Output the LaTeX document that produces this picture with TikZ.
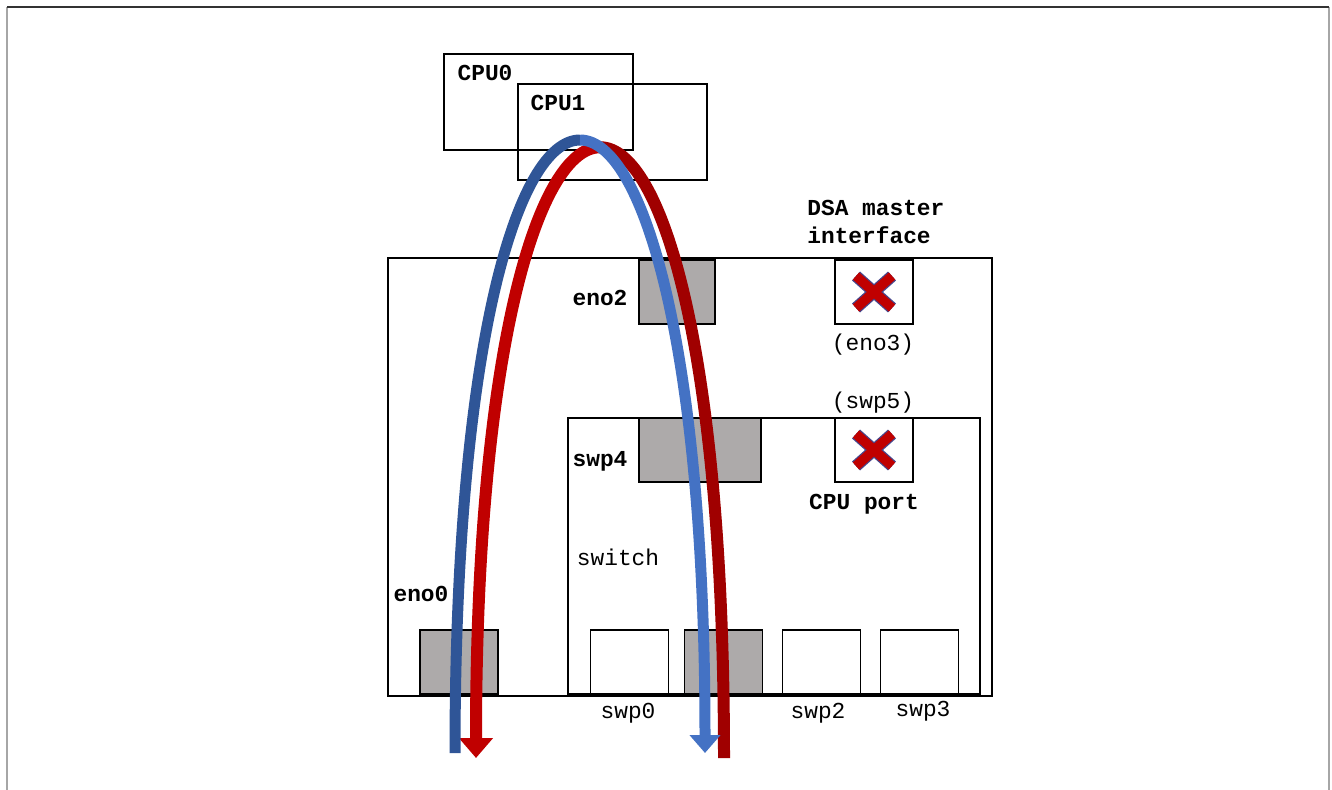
\documentclass[tikz,border=0pt]{standalone}
\usepackage{fontspec}
\newfontfamily\cour{Liberation Mono}
\usetikzlibrary{arrows.meta}
\definecolor{blueL}{RGB}{47,85,151}
\definecolor{blueR}{RGB}{68,114,196}
\definecolor{redL}{RGB}{192,0,0}
\definecolor{redR}{RGB}{160,0,0}
\definecolor{portgray}{RGB}{173,170,170}
\definecolor{xnavy}{RGB}{70,70,140}
\begin{document}
\begin{tikzpicture}[x=0.02cm,y=-0.02cm,
  box/.style={draw=black,line width=0.85pt,inner sep=0pt,outer sep=0pt},
  gport/.style={box,fill=portgray,minimum width=1.56cm,minimum height=1.28cm},
  wport/.style={box,fill=white,minimum width=1.56cm,minimum height=1.28cm},
  bl/.style={font=\cour\bfseries\fontsize{13}{16}\selectfont,inner sep=0pt},
  pl/.style={font=\cour\fontsize{13}{16}\selectfont,inner sep=0pt},
  bluearc/.style={line width=0.22cm},
  redarc/.style={line width=0.24cm},
  xmark/.pic={
    \draw[xnavy,line width=0.24cm] (-18,-16) -- (18,16) (-18,16) -- (18,-16);
    \draw[redL,line width=0.19cm] (-18,-16) -- (18,16) (-18,16) -- (18,-16);
  }]
\useasboundingbox (0,0) rectangle (1332,790);
% outer frame
\coordinate (f1) at (7,790);
\coordinate (f2) at (7,7);
\coordinate (f3) at (1329,7);
\coordinate (f4) at (1329,790);
\draw[color=black!35,line width=1.1pt] (f1) -- (f2);
\draw[color=black!35,line width=1.1pt] (f3) -- (f4);
\draw[color=black!80,line width=0.9pt] (f2) -- (f3);

% CPUs
\node[box,minimum width=3.78cm,minimum height=1.92cm] (cpu0) at (538.5,102) {};
\node[box,minimum width=3.78cm,minimum height=1.92cm] (cpu1) at (612.5,132) {};
\node[bl] (cpu0l) at (485,73) {CPU0};
\node[bl] (cpu1l) at (558,103) {CPU1};

% host box
\node[box,minimum width=12.08cm,minimum height=8.76cm] (host) at (690,477) {};
\node[gport,minimum width=1.52cm] (eno2) at (677,292) {};
\node[bl] (eno2l) at (600,298) {eno2};
\node[wport] (eno3) at (874,292) {};
\pic at (eno3) {xmark};
\node[pl] (eno3l) at (873,345) {(eno3)};
\node[bl,align=left,anchor=west] (dsal) at (807,222) {DSA master\\interface};

% switch
\node[box,minimum width=8.24cm,minimum height=5.52cm] (sw) at (774,556) {};
\node[gport,minimum width=2.44cm] (swp4) at (700,450) {};
\node[bl] (swp4l) at (600,461) {swp4};
\node[wport] (swp5) at (874,450) {};
\pic at (swp5) {xmark};
\node[pl] (swp5l) at (873,403) {(swp5)};
\node[bl] (cpuport) at (864,504) {CPU port};
\node[pl] (swl) at (618,557) {switch};

\node[wport] (swp0) at (629.5,662) {};
\node[gport] (swp1) at (723.5,662) {};
\node[wport] (swp2) at (821.5,662) {};
\node[wport] (swp3) at (919.5,662) {};
\node[pl] (swp0l) at (628,713) {swp0};
\node[pl] (swp2l) at (818,713) {swp2};
\node[pl] (swp3l) at (923,711) {swp3};

\node[gport] (eno0) at (459,662) {};
\node[bl] (eno0l) at (421,594) {eno0};

% red arc
\coordinate (r0) at (476,758);
\coordinate (rt) at (600,147.25);
\coordinate (r1) at (724,758);
\draw[redarc,redL,{Triangle[width=0.66cm,length=0.4cm]}-] (r0) .. controls (476,350.5) and (538,147.25) .. (rt);
\draw[redarc,redR] (rt) .. controls (662,147.25) and (724,350.5) .. (r1);

% blue arc
\coordinate (b0) at (455,753);
\coordinate (bt) at (580,140);
\coordinate (b1) at (705,753);
\draw[bluearc,blueL] (b0) .. controls (455,344) and (517.5,140) .. (bt);
\draw[bluearc,blueR,-{Triangle[width=0.6cm,length=0.36cm]}] (bt) .. controls (642.5,140) and (705,344) .. (b1);
\end{tikzpicture}
\end{document}
